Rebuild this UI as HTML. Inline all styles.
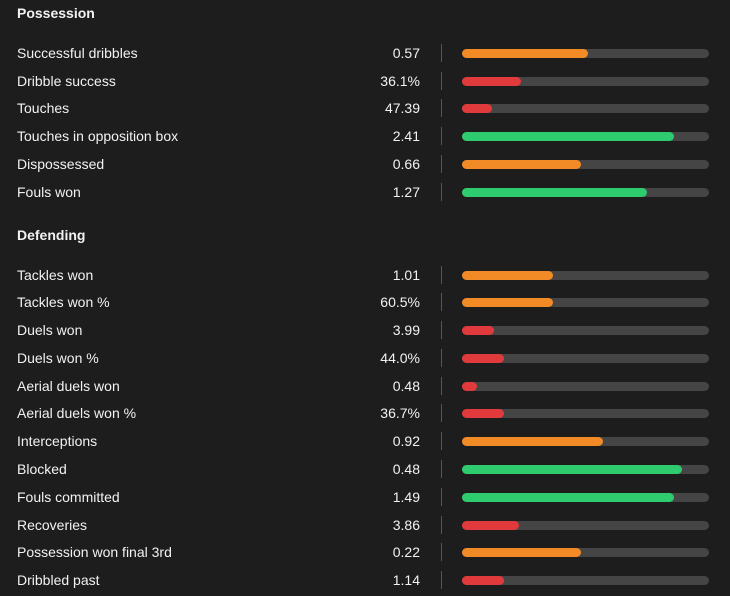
<!DOCTYPE html>
<html><head><meta charset="utf-8"><style>
html,body{margin:0;padding:0;background:#1d1d1d;width:730px;height:596px;overflow:hidden;font-family:"Liberation Sans",sans-serif;color:#f2f2f2}
.h{position:absolute;left:17px;font-size:14px;font-weight:bold;line-height:16px}
.row{position:absolute;left:0;width:730px;height:20px}
.lab{position:absolute;left:17px;top:2px;font-size:14px;line-height:16px}
.val{position:absolute;right:310px;top:2px;font-size:14px;line-height:16px;text-align:right}
.sep{position:absolute;left:441px;top:1px;width:1px;height:18px;background:#555}
.trk{position:absolute;left:462px;top:6px;width:247px;height:9px;border-radius:5px;background:#454545}
.fill{position:absolute;left:0;top:0;height:9px;border-radius:5px}
</style></head><body>
<div class="h" style="top:5px">Possession</div>
<div class="h" style="top:227px">Defending</div>
<div id="rows"></div>
<script>
const labels=["Successful dribbles","Dribble success","Touches","Touches in opposition box","Dispossessed","Fouls won","Tackles won","Tackles won %","Duels won","Duels won %","Aerial duels won","Aerial duels won %","Interceptions","Blocked","Fouls committed","Recoveries","Possession won final 3rd","Dribbled past"];
const values=["0.57","36.1%","47.39","2.41","0.66","1.27","1.01","60.5%","3.99","44.0%","0.48","36.7%","0.92","0.48","1.49","3.86","0.22","1.14"];
const percentiles=[0.51,0.24,0.12,0.86,0.48,0.75,0.37,0.37,0.13,0.17,0.06,0.17,0.57,0.89,0.86,0.23,0.48,0.17];
const tops=[53,81,108,136,164,192,275,302,330,358,386,413,441,469,497,525,552,580];
function color(p){return p>=0.66?"#2ecc6e":(p>=0.33?"#f28a26":"#e03a3c");}
const c=document.getElementById('rows');
labels.forEach((l,i)=>{
 const r=document.createElement('div');r.className='row';r.style.top=(tops[i]-10)+'px';
 
 
 r.innerHTML='<div class="lab">'+l+'</div><div class="val">'+values[i]+'</div><div class="sep"></div><div class="trk"><div class="fill" style="width:'+(percentiles[i]*247)+'px;background:'+color(percentiles[i])+'"></div></div>';
 c.appendChild(r);
});
</script>
</body></html>
